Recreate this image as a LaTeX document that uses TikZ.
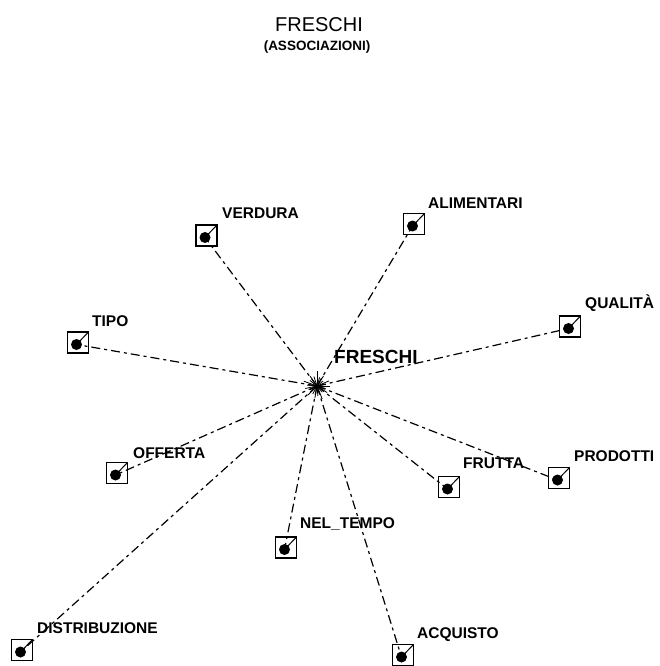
\documentclass[tikz,border=0pt]{standalone}
\usepackage{fontspec}
\setmainfont{Liberation Sans}
\usetikzlibrary{calc}
\begin{document}
\begin{tikzpicture}[x=1pt,y=-1pt,
  box/.style={draw,line width=1.2pt,minimum size=21pt,inner sep=0pt,outer sep=0pt},
  conn/.style={line width=1.2pt,dash pattern=on 9pt off 4pt on 3pt off 4pt},
  lbl/.style={anchor=base west,inner sep=0pt,font=\fontsize{15.5}{18}\bfseries},
  tick/.style={line width=1pt},
  ray/.style={line width=0.8pt}]
\useasboundingbox (0,0) rectangle (660,666);
\node[anchor=base,inner sep=0pt,font=\fontsize{20}{24}\selectfont] (title) at (319,32) {FRESCHI};
\node[anchor=base,inner sep=0pt,font=\fontsize{13.5}{16}\bfseries] (subtitle) at (317,51) {(ASSOCIAZIONI)};
\coordinate (hub) at (317,386);
\node[anchor=base west,inner sep=0pt,font=\fontsize{19}{22}\bfseries] (centre) at (334,363) {FRESCHI};
\foreach \n/\x/\y/\t/\lx/\ly in {
  verdura/206.5/235.5/VERDURA/222/218,
  alimentari/414/224/ALIMENTARI/428/208,
  tipo/78/342.5/TIPO/92/326,
  qualita/570/326.5/QUALITÀ/585/308,
  offerta/117/473/OFFERTA/133/458,
  frutta/449/487/FRUTTA/463/468,
  prodotti/559/478/PRODOTTI/574/461,
  neltempo/286/547.5/NEL\_TEMPO/300/528,
  distribuzione/22/650/DISTRIBUZIONE/37/633,
  acquisto/403/655/ACQUISTO/417/638}{
  \node[box] (\n) at (\x,\y) {};
  \coordinate (\n-d) at ($(\n.center)+(-1.5,2)$);
  \node[lbl] (\n-l) at (\lx,\ly) {\t};
}
\foreach \n in {verdura,alimentari,tipo,qualita,offerta,frutta,prodotti,neltempo,distribuzione,acquisto}{
  \draw[conn] (hub) -- (\n-d);
  \fill (\n-d) circle (5.5);
  \draw[tick] (\n-d) -- (\n.north east);
}
\foreach \a/\r in {0/13,17/9,33/12,50/8,68/14,85/10,100/12,118/9,135/13,152/8,168/12,185/10,200/14,218/9,235/12,252/10,270/15,287/9,303/12,320/8,337/13,350/9}{
  \draw[ray] (hub) -- ++(\a:\r);
}
\end{tikzpicture}
\end{document}
